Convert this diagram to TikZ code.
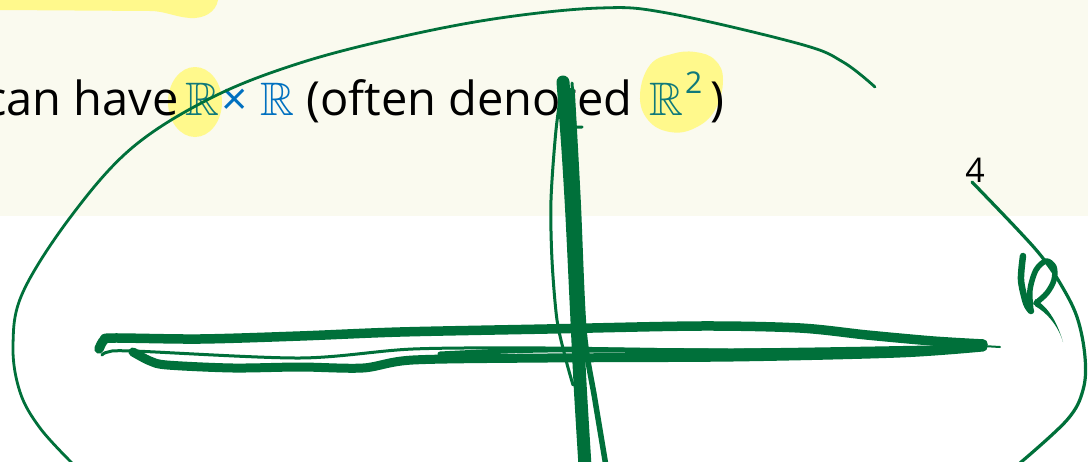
\documentclass[tikz,border=0pt]{standalone}
\usepackage{amssymb}
\usepackage{fontspec}
\setmainfont{Open Sans}
\definecolor{cream}{HTML}{FAFAEF}
\definecolor{hl}{HTML}{FFF98C}
\definecolor{ink}{HTML}{00703A}
\definecolor{mblue}{HTML}{0070C0}
\definecolor{mteal}{HTML}{10797A}
\begin{document}
\begin{tikzpicture}[x=1pt,y=-1pt,
  pen/.style={draw=ink,line cap=round,line join=round},
  txt/.style={inner sep=0pt,anchor=base west,font=\fontsize{47}{50}\selectfont}]
\useasboundingbox (0,0) rectangle (1088,461);
\fill[white] (0,0) rectangle (1088,461);
\fill[cream] (0,0) rectangle (1088,216);
% highlights
\fill[hl] (0,0) -- (218,0) .. controls (216,12) and (204,19) .. (190,18)
  .. controls (175,17) and (165,11) .. (150,11) -- (0,10) -- cycle;
\fill[hl] (195,102) ellipse[x radius=27,y radius=35];
\fill[hl] plot[smooth cycle,tension=0.7] coordinates {(640,95) (650,65) (672,54) (695,52) (715,60) (723,80) (715,110) (695,128) (670,132) (648,120)};
% text
\node[txt] (t1) at (-16,115) {can have};
\node[txt] (r1) at (185,115) {\textcolor{mteal}{$\mathbb{R}$}};
\node[txt,anchor=base,font=\fontsize{46}{50}\selectfont] (x1) at (235,115) {\textcolor{mblue}{×}};
\node[txt] (r2) at (260,115) {\textcolor{mblue}{$\mathbb{R}$}};
\node[txt] (t2) at (306,115) {(often denoted};
\node[txt] (r3) at (649,115) {\textcolor{mteal}{$\mathbb{R}$\hspace{2pt}\raisebox{22pt}{\fontsize{30}{30}\selectfont 2}}};
\node[txt] (t3) at (710,115) {)};
\node[inner sep=0pt,anchor=base,font=\fontsize{34}{36}\selectfont] (four) at (975,182) {4};
% big loop
\draw[pen,line width=2.8] plot[smooth,tension=0.6] coordinates {(875,87) (843,62) (800,44) (667,13) (600,8) (500,18) (400,37) (300,63) (213,97) (133,147) (72,215) (23,292) (13,345) (20,392) (40,428) (72,463)};
\draw[pen,line width=3.2] plot[smooth,tension=0.6] coordinates {(972,182) (1018,230) (1042,257) (1060,283) (1077,317) (1085,357) (1083,390) (1067,420) (1020,463)};
% R scribble
\draw[pen,line width=6.5] plot[smooth,tension=0.5] coordinates {(1023,256) (1021,280) (1026,303) (1031,311)};
\draw[pen,line width=5.5] plot[smooth,tension=0.55] coordinates {(1031,311) (1030,290) (1036,270) (1046,261) (1054,267) (1054,280) (1047,293) (1036,303)};
\fill[ink] (1035,299) .. controls (1046,306) and (1056,318) .. (1063,342) .. controls (1058,325) and (1046,312) .. (1035,306) -- cycle;
% horizontal strokes
\draw[pen,line width=9.5] plot[smooth,tension=0.5] coordinates {(99,349) (104,340) (114,338) (200,339) (300,336) (400,332) (547,329) (700,326) (800,328) (867,335) (933,341) (983,344)};
\draw[pen,line width=3] plot[smooth,tension=0.5] coordinates {(102,355) (108,352) (133,351) (300,358) (413,349) (547,348) (733,350) (983,346)};
\draw[pen,line width=9] plot[smooth,tension=0.5] coordinates {(133,352) (150,361) (167,365) (233,368) (300,367) (363,368) (413,360) (547,358) (733,357) (900,353) (983,347)};
\draw[pen,line width=5] plot[smooth,tension=0.5] coordinates {(440,354) (547,350) (733,351) (900,350) (983,346)};
\draw[pen,line width=2] (983,346) -- (1000,347);
% vertical strokes
\draw[pen,line width=13] plot[smooth,tension=0.5] coordinates {(563,82) (568,150) (572,217) (576,300) (580,383) (585,466)};
\draw[pen,line width=5.5] plot[smooth,tension=0.5] coordinates {(572,90) (578,200) (584,330) (595,400) (606,466)};
\draw[pen,line width=3] plot[smooth,tension=0.5] coordinates {(563,79) (556,130) (551,200) (552,260) (557,320) (566,360) (573,385)};
\draw[pen,line width=3] (572,83) -- (575,127) -- (582,127);
\end{tikzpicture}
\end{document}
